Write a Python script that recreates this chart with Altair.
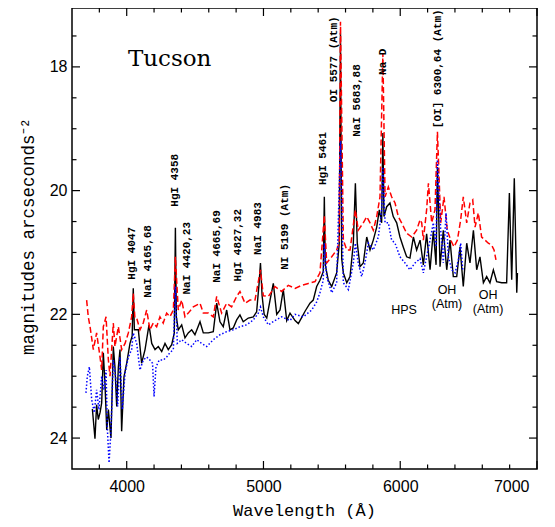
import altair as alt
import pandas as pd

# ---------------- data ----------------
black_wl = [3749, 3768, 3780, 3792, 3805, 3817, 3829, 3841, 3854, 3866, 3885, 3902, 3914, 3927, 3939, 3951,
            3963, 3980, 4000, 4024, 4040, 4048, 4056, 4085, 4109, 4134, 4163, 4183, 4207, 4231, 4256, 4280,
            4304, 4329, 4348, 4356, 4363, 4377, 4402, 4426, 4450, 4475, 4499, 4536, 4560, 4597, 4633, 4658,
            4682, 4706, 4731, 4755, 4779, 4804, 4828, 4852, 4889, 4926, 4950, 4968, 4978, 4990, 5005, 5024,
            5048, 5072, 5097, 5121, 5145, 5170, 5194, 5231, 5255, 5280, 5304, 5340, 5364, 5389, 5413, 5437,
            5445, 5452, 5474, 5499, 5535, 5554, 5563, 5572, 5584, 5609, 5633, 5657, 5672, 5686, 5706, 5730,
            5755, 5779, 5803, 5828, 5847, 5864, 5873, 5881, 5901, 5925, 5949, 5974, 5998, 6022, 6047, 6071,
            6096, 6120, 6145, 6169, 6193, 6218, 6242, 6262, 6272, 6291, 6315, 6340, 6364, 6388, 6413, 6437,
            6461, 6486, 6510, 6535, 6559, 6583, 6608, 6632, 6656, 6681, 6705, 6742, 6778, 6798, 6815, 6834,
            6852, 6857]
black_mag = [23.53, 24.01, 23.46, 23.70, 23.59, 23.43, 22.62, 23.11, 23.87, 23.54, 24.00, 22.52, 22.85, 23.49,
             22.85, 22.57, 23.89, 23.01, 22.79, 22.47, 22.35, 21.58, 22.25, 22.25, 22.79, 22.57, 22.17, 22.47,
             22.57, 22.52, 22.60, 22.47, 22.57, 22.49, 22.30, 20.60, 22.04, 22.25, 22.17, 22.38, 22.30, 22.25,
             22.33, 22.12, 22.30, 22.30, 22.28, 21.82, 22.12, 22.20, 21.93, 22.25, 22.22, 22.09, 22.01, 22.12,
             22.06, 22.04, 21.96, 21.50, 21.17, 21.70, 22.00, 22.06, 21.77, 21.50, 22.00, 21.93, 21.60, 22.10,
             21.98, 22.10, 22.15, 22.05, 21.95, 21.82, 21.77, 21.55, 21.45, 21.31, 20.10, 21.20, 21.45, 21.55,
             21.33, 20.85, 17.45, 21.10, 21.33, 21.49, 21.39, 20.85, 19.88, 20.85, 21.23, 21.17, 20.75, 20.96,
             20.80, 20.59, 20.31, 20.52, 19.07, 20.42, 20.26, 20.20, 20.42, 20.52, 20.75, 20.91, 21.07, 21.09,
             20.75, 20.96, 20.80, 21.20, 20.70, 21.28, 20.65, 21.20, 19.62, 21.23, 20.64, 21.28, 20.80, 21.39,
             21.39, 20.91, 21.55, 20.85, 21.17, 20.64, 21.28, 21.07, 21.49, 21.39, 21.49, 21.28, 21.47, 21.49,
             21.49, 20.04, 21.44, 19.80, 21.65, 21.33]

red_wl = [3707, 3719, 3732, 3756, 3780, 3805, 3817, 3829, 3849, 3866, 3878, 3902, 3914, 3939, 3963, 3988,
          4012, 4036, 4048, 4060, 4073, 4097, 4121, 4146, 4170, 4194, 4219, 4243, 4267, 4292, 4316, 4341,
          4356, 4377, 4402, 4426, 4450, 4487, 4536, 4560, 4597, 4633, 4658, 4694, 4731, 4767, 4804, 4828,
          4865, 4901, 4938, 4978, 4999, 5036, 5084, 5133, 5182, 5231, 5280, 5328, 5377, 5413, 5445, 5462,
          5499, 5535, 5554, 5563, 5584, 5609, 5633, 5672, 5693, 5730, 5755, 5779, 5803, 5828, 5852, 5873,
          5889, 5913, 5937, 5962, 5986, 6010, 6047, 6084, 6120, 6145, 6157, 6169, 6193, 6206, 6230, 6254,
          6272, 6296, 6320, 6344, 6369, 6393, 6418, 6442, 6461, 6486, 6510, 6530, 6547, 6571, 6595, 6620,
          6644, 6668, 6686, 6700]
red_mag = [21.77, 22.04, 22.20, 22.57, 22.30, 22.69, 22.90, 22.20, 22.04, 22.74, 23.00, 22.14, 22.52, 22.20,
           22.57, 22.47, 22.30, 22.04, 21.66, 22.06, 22.06, 22.25, 22.14, 21.93, 22.25, 22.14, 22.20, 22.04,
           22.14, 21.98, 22.04, 21.93, 21.07, 21.93, 21.77, 22.04, 21.98, 21.88, 21.82, 21.98, 21.98, 22.04,
           21.71, 21.98, 21.82, 21.88, 21.71, 21.63, 21.82, 21.77, 21.77, 21.28, 21.70, 21.71, 21.55, 21.63,
           21.53, 21.58, 21.53, 21.50, 21.47, 21.33, 20.40, 21.17, 21.07, 20.96, 20.85, 17.27, 20.80, 20.96,
           20.96, 20.31, 20.64, 20.52, 20.42, 20.52, 20.64, 20.42, 20.10, 17.78, 20.10, 19.94, 20.10, 20.20,
           20.42, 20.52, 20.69, 20.75, 20.64, 20.47, 20.52, 20.80, 20.31, 19.88, 20.52, 20.31, 19.05, 20.52,
           20.10, 20.64, 20.80, 20.91, 20.80, 20.47, 20.10, 20.52, 20.20, 20.15, 20.59, 20.36, 20.75, 20.80,
           20.85, 20.88, 20.96, 21.12]

blue_wl = [3702, 3712, 3727, 3744, 3763, 3780, 3797, 3817, 3834, 3849, 3858, 3871, 3885, 3902, 3919, 3934,
           3951, 3968, 3988, 4012, 4036, 4048, 4073, 4097, 4121, 4146, 4170, 4189, 4200, 4214, 4238, 4267,
           4292, 4316, 4341, 4356, 4370, 4402, 4438, 4475, 4512, 4548, 4585, 4633, 4682, 4731, 4779, 4828,
           4877, 4926, 4962, 4978, 4999, 5036, 5084, 5133, 5194, 5231, 5291, 5353, 5389, 5413, 5437, 5445,
           5462, 5499, 5535, 5563, 5584, 5621, 5657, 5672, 5693, 5718, 5742, 5767, 5803, 5840, 5864, 5873,
           5889, 5913, 5937, 5962, 5998, 6035, 6071, 6108, 6145, 6169, 6193, 6218, 6242, 6262, 6272, 6296,
           6315, 6335, 6352, 6376, 6401, 6425, 6442, 6457]
blue_mag = [23.27, 23.00, 22.85, 23.38, 23.59, 23.22, 23.54, 23.00, 23.22, 22.90, 23.82, 24.40, 23.87, 22.74,
            23.00, 23.49, 22.69, 23.54, 22.95, 22.69, 22.57, 22.30, 22.47, 22.90, 22.74, 22.69, 22.74, 22.79,
            23.33, 22.85, 22.74, 22.74, 22.69, 22.62, 22.57, 21.55, 22.47, 22.41, 22.47, 22.52, 22.41, 22.47,
            22.52, 22.41, 22.33, 22.28, 22.25, 22.20, 22.17, 22.09, 21.98, 21.88, 22.04, 22.17, 22.10, 22.04,
            22.10, 22.00, 22.04, 21.93, 21.80, 21.65, 21.45, 20.85, 21.39, 21.65, 21.49, 19.20, 21.49, 21.60,
            21.17, 20.85, 21.17, 21.39, 21.17, 20.85, 20.96, 20.75, 20.31, 19.62, 20.52, 20.52, 20.80, 20.85,
            21.07, 21.17, 21.28, 21.17, 21.10, 21.33, 21.07, 20.80, 20.52, 20.91, 19.50, 20.64, 21.17, 20.36,
            21.07, 21.28, 21.33, 21.12, 20.85, 21.28]

x_major = [4000, 5000, 6000, 7000]
x_minor = [3800, 4200, 4400, 4600, 4800, 5200, 5400, 5600, 5800, 6200, 6400, 6600, 6800]
y_major = [18, 20, 22, 24]
y_minor = [17.5, 18.5, 19, 19.5, 20.5, 21, 21.5, 22.5, 23, 23.5]

line_labels = ["HgI 4047", "NaI 4165,68", "HgI 4358", "NaI 4420,23", "NaI 4665,69", "HgI 4827,32",
               "NaI 4983", "NI 5199 (Atm)", "HgI 5461", "OI 5577 (Atm)", "NaI 5683,88", "Na D",
               "[OI] 6300,64 (Atm)"]
line_label_wl = [4036, 4158, 4353, 4439, 4658, 4816, 4962, 5157, 5435, 5516, 5686, 5876, 6278]
line_label_mag = [21.44, 21.73, 20.26, 21.68, 21.49, 21.47, 21.04, 21.28, 19.91, 18.57, 19.13, 18.13, 18.99]

note_text = ["HPS", "OH", "(Atm)", "OH", "(Atm)"]
note_wl = [6028, 6342, 6342, 6642, 6642]
note_mag = [21.93, 21.61, 21.84, 21.69, 21.92]

site_text = ["Tucson"]
site_wl = [4009]
site_mag = [17.99]

# ---------------- chart ----------------
W, H = 465, 461
xs = alt.Scale(domain=[3600, 7000], nice=False, zero=False)
ys = alt.Scale(domain=[17.048, 24.5], reverse=True, nice=False, zero=False)

AX = alt.Axis(
    values=x_major, format="d", title="Wavelength (Å)", grid=False, domain=False, ticks=False,
    labelFont="Liberation Sans", labelFontSize=16, labelColor="black", labelPadding=9,
    labelOffset={"condition": {"test": "datum.value >= 7000", "value": -8}, "value": 0},
    titleFont="Liberation Mono", titleFontSize=17, titleFontWeight="normal", titleColor="black",
    titleX=232, titleY=46, titleBaseline="alphabetic", titleAlign="center")
AY = alt.Axis(
    values=y_major, title="magnitudes arcseconds⁻²", grid=False, domain=False, ticks=False,
    labelFont="Liberation Sans", labelFontSize=16, labelColor="black", labelPadding=5,
    titleFont="Liberation Mono", titleFontSize=17.5, titleFontWeight="normal", titleColor="black",
    titleAngle=270, titleX=-44, titleY=228, titleBaseline="middle", titleAlign="center")


def X(field):
    return alt.X(field, scale=xs, axis=AX)


def Y(field):
    return alt.Y(field, scale=ys, axis=AY)


def spec_df(wl, mag):
    return pd.DataFrame({"wl": wl, "mag": mag})


black = alt.Chart(spec_df(black_wl, black_mag)).mark_line(color="black", strokeWidth=1.4).encode(
    x=X("wl:Q"), y=Y("mag:Q"))

red = alt.Chart(spec_df(red_wl, red_mag)).mark_line(color="#ff0000", strokeWidth=1.5, strokeDash=[6, 3]).encode(
    x=X("wl:Q"), y=Y("mag:Q"))

blue = alt.Chart(spec_df(blue_wl, blue_mag)).mark_line(color="#0000ff", strokeWidth=1.5, strokeDash=[1.5, 2]).encode(
    x=X("wl:Q"), y=Y("mag:Q"))


def xticks(vals, length):
    df = pd.DataFrame({"wl": vals})
    base = alt.Chart(df).mark_rule(color="black", strokeWidth=1.2)
    bottom = base.encode(x=X("wl:Q"), y=alt.value(H), y2=alt.value(H - length))
    top = base.encode(x=X("wl:Q"), y=alt.value(0), y2=alt.value(length))
    return [bottom, top]


def yticks(vals, length):
    df = pd.DataFrame({"mag": vals})
    base = alt.Chart(df).mark_rule(color="black", strokeWidth=1.2)
    left = base.encode(y=Y("mag:Q"), x=alt.value(0), x2=alt.value(length))
    right = base.encode(y=Y("mag:Q"), x=alt.value(W), x2=alt.value(W - length))
    return [left, right]


tick_layers = xticks(x_major, 8) + xticks(x_minor, 4.5) + yticks(y_major, 8) + yticks(y_minor, 4.5)

labels = alt.Chart(pd.DataFrame({"t": line_labels, "wl": line_label_wl, "mag": line_label_mag})).mark_text(
    angle=270, align="left", baseline="middle", font="Liberation Mono", fontSize=11, fontWeight="bold",
    color="black").encode(x=X("wl:Q"), y=Y("mag:Q"), text="t:N")

notes = alt.Chart(pd.DataFrame({"t": note_text, "wl": note_wl, "mag": note_mag})).mark_text(
    align="center", baseline="middle", font="Liberation Sans", fontSize=12.5, color="black").encode(
    x=X("wl:Q"), y=Y("mag:Q"), text="t:N")

site = alt.Chart(pd.DataFrame({"t": site_text, "wl": site_wl, "mag": site_mag})).mark_text(
    align="left", baseline="alphabetic", font="DejaVu Serif", fontSize=23, color="black").encode(
    x=X("wl:Q"), y=Y("mag:Q"), text="t:N")

chart = alt.layer(black, *tick_layers, red, blue, labels, notes, site).properties(
    width=W, height=H,
    autosize=alt.AutoSizeParams(type="none"),
    padding={"left": 64, "top": 0, "right": 10, "bottom": 50},
    background="white",
).configure_view(stroke="black", strokeWidth=1.5)

chart.save("out.html", embed_options={"renderer": "svg", "actions": False})
